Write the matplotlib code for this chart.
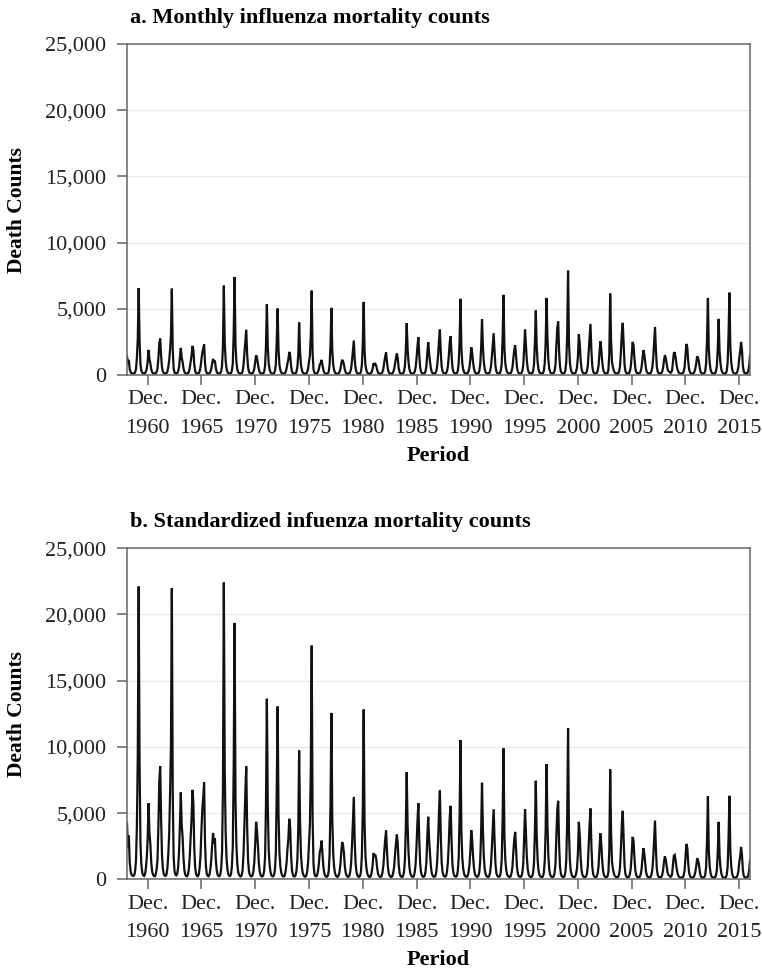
import numpy as np
import matplotlib
matplotlib.use("Agg")
import matplotlib.pyplot as plt
from matplotlib.ticker import FuncFormatter, MultipleLocator

# monthly counts, Jan..Dec, one row per year (1959-2016)
start_year = 1959
raw_counts = [
    1410, 900, 1150, 450, 230, 150, 130, 120, 130, 220, 450, 1300,     # 1959
    2800, 6580, 2600, 800, 330, 180, 140, 130, 150, 260, 500, 1000,    # 1960
    1910, 1200, 900, 450, 230, 150, 130, 120, 140, 250, 500, 1300,     # 1961
    2400, 2760, 1500, 600, 280, 160, 130, 120, 150, 260, 600, 1100,    # 1962
    1900, 3000, 6530, 1900, 500, 200, 140, 130, 150, 280, 600, 1300,   # 1963
    2060, 1300, 1000, 500, 250, 150, 130, 120, 150, 260, 550, 1000,    # 1964
    1500, 2210, 1900, 800, 300, 160, 130, 120, 150, 280, 600, 1200,    # 1965
    1700, 2000, 2340, 900, 320, 160, 130, 120, 150, 250, 500, 900,     # 1966
    1230, 1000, 1100, 550, 260, 150, 130, 120, 150, 280, 700, 2200,    # 1967
    6760, 2500, 1100, 500, 250, 150, 130, 130, 160, 350, 900, 3200,    # 1968
    7410, 2300, 1000, 450, 230, 150, 130, 120, 150, 300, 800, 1700,    # 1969
    2600, 3440, 1600, 600, 260, 150, 130, 120, 140, 250, 500, 1000,    # 1970
    1510, 1300, 900, 450, 230, 140, 120, 120, 140, 260, 700, 2200,     # 1971
    5350, 2200, 900, 450, 230, 140, 120, 120, 150, 300, 800, 2600,     # 1972
    5030, 1900, 800, 400, 210, 140, 120, 120, 140, 260, 500, 900,      # 1973
    1200, 1760, 1500, 700, 280, 150, 120, 120, 140, 260, 600, 1500,    # 1974
    3970, 1800, 800, 400, 200, 140, 120, 110, 130, 240, 500, 1000,     # 1975
    1500, 3000, 6380, 1700, 450, 180, 130, 120, 140, 240, 450, 800,    # 1976
    900, 1160, 800, 400, 200, 130, 110, 110, 130, 260, 800, 2300,      # 1977
    5080, 1800, 800, 380, 200, 130, 110, 110, 130, 230, 450, 850,      # 1978
    1160, 1050, 800, 400, 200, 130, 110, 110, 130, 250, 500, 1100,     # 1979
    1900, 2610, 1200, 500, 230, 130, 110, 110, 130, 260, 800, 2300,    # 1980
    5530, 1800, 750, 380, 200, 130, 110, 110, 130, 250, 500, 905,      # 1981
    800, 850, 700, 400, 200, 130, 110, 110, 130, 250, 500, 1000,       # 1982
    1400, 1710, 1000, 450, 220, 130, 110, 110, 130, 250, 450, 900,     # 1983
    1300, 1630, 1300, 550, 230, 130, 110, 110, 140, 280, 700, 1900,    # 1984
    3920, 2000, 1000, 450, 220, 140, 120, 120, 140, 280, 600, 1300,    # 1985
    2200, 2870, 1500, 600, 260, 150, 120, 120, 150, 300, 700, 1700,    # 1986
    2490, 1600, 1000, 500, 240, 150, 130, 130, 150, 300, 700, 1500,    # 1987
    2600, 3440, 1700, 650, 280, 160, 130, 130, 160, 320, 700, 1500,    # 1988
    2500, 2940, 1600, 600, 270, 160, 130, 130, 160, 330, 900, 2600,    # 1989
    5760, 2000, 900, 450, 230, 150, 130, 130, 150, 300, 600, 1200,     # 1990
    2110, 1700, 1000, 500, 240, 150, 130, 130, 160, 320, 800, 2000,    # 1991
    4220, 2200, 1000, 450, 230, 150, 130, 130, 150, 300, 650, 1400,    # 1992
    2300, 3170, 1800, 700, 280, 160, 130, 130, 160, 350, 900, 2800,    # 1993
    6060, 2000, 900, 450, 230, 150, 130, 130, 150, 300, 600, 1300,     # 1994
    1900, 2260, 1400, 600, 260, 150, 130, 130, 160, 320, 750, 2000,    # 1995
    3440, 2200, 1100, 500, 240, 150, 130, 130, 150, 320, 800, 2400,    # 1996
    4880, 2200, 1000, 450, 230, 150, 130, 130, 160, 330, 900, 2500,    # 1997
    5830, 2800, 1200, 500, 240, 150, 130, 130, 160, 330, 800, 2300,    # 1998
    3600, 4050, 1800, 650, 280, 160, 130, 130, 160, 350, 1000, 3000,   # 1999
    7890, 2500, 1000, 450, 230, 150, 130, 130, 150, 300, 600, 1400,    # 2000
    3090, 2400, 1200, 500, 240, 150, 130, 130, 150, 300, 700, 1800,    # 2001
    3000, 3870, 1900, 700, 280, 160, 130, 130, 160, 320, 700, 1600,    # 2002
    2560, 2000, 1100, 500, 240, 150, 130, 130, 160, 400, 1600, 6160,   # 2003
    2600, 1000, 600, 350, 200, 140, 120, 120, 150, 300, 700, 1800,     # 2004
    3200, 3950, 2300, 800, 300, 160, 130, 130, 150, 300, 650, 1500,    # 2005
    2510, 2300, 1300, 550, 250, 150, 130, 130, 150, 280, 600, 1200,    # 2006
    1890, 1600, 1000, 450, 230, 150, 130, 130, 150, 280, 600, 1300,    # 2007
    2500, 3640, 1900, 650, 270, 150, 130, 130, 150, 270, 550, 1100,    # 2008
    1510, 1300, 900, 450, 300, 250, 180, 200, 350, 1000, 1650, 1730,   # 2009
    1300, 800, 450, 250, 170, 130, 120, 120, 140, 270, 600, 1500,      # 2010
    2360, 2100, 1100, 450, 220, 140, 120, 120, 140, 260, 500, 900,     # 2011
    1430, 1300, 1000, 500, 220, 140, 120, 120, 150, 300, 900, 2700,    # 2012
    5830, 2000, 900, 420, 220, 140, 120, 120, 150, 300, 700, 2000,     # 2013
    4250, 1800, 900, 420, 220, 140, 120, 120, 150, 320, 900, 3000,     # 2014
    6230, 2200, 1000, 450, 220, 140, 120, 120, 150, 300, 600, 1300,    # 2015
    1800, 2510, 1900, 700, 280, 150, 130, 130, 150, 300, 700, 1510,    # 2016
]

std_counts = [
    4220, 2400, 3300, 1300, 600, 350, 280, 250, 300, 600, 1400, 4000,        # 1959
    9400, 22100, 8700, 2700, 1100, 500, 300, 250, 350, 800, 1600, 3000,      # 1960
    5740, 3500, 2700, 1300, 600, 350, 250, 230, 350, 750, 1500, 4000,        # 1961
    7400, 8530, 4600, 1850, 800, 400, 280, 250, 350, 800, 1850, 3400,        # 1962
    6400, 10100, 21960, 6400, 1700, 600, 350, 300, 400, 900, 2000, 4100,     # 1963
    6550, 4100, 3200, 1600, 700, 350, 250, 230, 350, 800, 1750, 3100,        # 1964
    4600, 6750, 5800, 2400, 900, 400, 260, 230, 350, 850, 1800, 3700,        # 1965
    5300, 6200, 7310, 2800, 1000, 400, 260, 230, 350, 780, 1500, 2600,       # 1966
    3500, 2700, 3100, 1550, 700, 350, 250, 230, 350, 800, 2000, 6800,        # 1967
    22400, 8300, 3600, 1600, 750, 380, 260, 250, 380, 1000, 2500, 8500,      # 1968
    19350, 6000, 2600, 1150, 550, 330, 240, 220, 330, 750, 2000, 4300,       # 1969
    6500, 8530, 4000, 1500, 620, 330, 240, 220, 300, 600, 1300, 2700,        # 1970
    4340, 3700, 2600, 1250, 600, 320, 230, 220, 300, 650, 1700, 5600,        # 1971
    13630, 5600, 2300, 1150, 560, 320, 230, 220, 330, 700, 2000, 6700,       # 1972
    13045, 4900, 2050, 1000, 520, 300, 220, 210, 300, 650, 1250, 2300,       # 1973
    3100, 4570, 3900, 1800, 700, 330, 220, 210, 300, 620, 1450, 3700,        # 1974
    9720, 4400, 1950, 950, 480, 290, 210, 200, 280, 600, 1300, 2700,         # 1975
    4100, 8300, 17640, 4700, 1200, 420, 250, 220, 300, 600, 1150, 2050,      # 1976
    2300, 2920, 2000, 1000, 480, 280, 200, 190, 270, 600, 1950, 5700,        # 1977
    12560, 4450, 2000, 930, 470, 280, 200, 190, 270, 540, 1100, 2050,        # 1978
    2820, 2550, 1950, 960, 470, 280, 200, 190, 260, 580, 1200, 2600,         # 1979
    4500, 6220, 2850, 1200, 540, 280, 200, 190, 260, 600, 1850, 5300,        # 1980
    12820, 4200, 1750, 880, 450, 270, 190, 180, 250, 560, 1100, 1980,        # 1981
    1750, 1850, 1550, 870, 430, 260, 190, 180, 240, 530, 1050, 2100,         # 1982
    3000, 3680, 2150, 960, 460, 260, 190, 180, 240, 520, 950, 1900,          # 1983
    2700, 3375, 2700, 1150, 470, 260, 190, 180, 250, 570, 1450, 3900,        # 1984
    8100, 4100, 2050, 920, 450, 270, 200, 190, 250, 560, 1200, 2600,         # 1985
    4400, 5740, 3000, 1200, 520, 280, 200, 190, 260, 580, 1350, 3250,        # 1986
    4720, 3000, 1900, 950, 450, 270, 200, 190, 250, 560, 1330, 2900,         # 1987
    5070, 6700, 3300, 1270, 540, 300, 210, 200, 270, 610, 1350, 2850,        # 1988
    4700, 5546, 3000, 1130, 510, 290, 210, 200, 270, 620, 1650, 4800,        # 1989
    10510, 3650, 1640, 820, 420, 260, 200, 190, 250, 540, 1080, 2150,        # 1990
    3706, 3000, 1760, 880, 420, 260, 200, 190, 260, 560, 1400, 3500,         # 1991
    7286, 3800, 1730, 780, 400, 250, 190, 180, 240, 520, 1120, 2400,         # 1992
    3850, 5294, 3000, 1170, 470, 270, 200, 190, 250, 580, 1500, 4600,        # 1993
    9883, 3260, 1470, 730, 370, 240, 190, 180, 230, 490, 980, 2100,          # 1994
    3000, 3580, 2200, 950, 410, 240, 190, 180, 240, 500, 1180, 3100,         # 1995
    5294, 3400, 1700, 770, 370, 230, 180, 170, 230, 490, 1230, 3650,         # 1996
    7437, 3350, 1520, 680, 350, 230, 180, 170, 230, 500, 1370, 3750,         # 1997
    8697, 4170, 1790, 750, 360, 220, 180, 170, 230, 490, 1190, 3370,         # 1998
    5260, 5924, 2630, 950, 410, 230, 180, 170, 230, 510, 1460, 4350,         # 1999
    11420, 3620, 1450, 650, 330, 210, 170, 160, 210, 430, 850, 1970,         # 2000
    4336, 3360, 1680, 700, 340, 210, 170, 160, 210, 420, 970, 2500,          # 2001
    4140, 5344, 2620, 970, 390, 220, 170, 160, 220, 440, 960, 2200,          # 2002
    3479, 2720, 1500, 680, 330, 200, 170, 160, 220, 540, 2170, 8294,         # 2003
    3480, 1340, 800, 470, 270, 190, 160, 150, 200, 400, 930, 2380,           # 2004
    4190, 5168, 3010, 1050, 390, 210, 170, 160, 200, 390, 850, 1950,         # 2005
    3202, 2940, 1660, 700, 320, 190, 160, 150, 190, 360, 770, 1520,          # 2006
    2345, 1980, 1240, 560, 280, 180, 150, 150, 180, 340, 740, 1600,          # 2007
    3050, 4437, 2320, 790, 330, 180, 150, 150, 180, 330, 670, 1320,          # 2008
    1740, 1500, 1030, 510, 330, 270, 190, 210, 370, 1060, 1780, 1840,        # 2009
    1420, 870, 490, 270, 180, 140, 130, 130, 150, 300, 660, 1680,            # 2010
    2672, 2370, 1240, 510, 250, 160, 130, 130, 160, 290, 560, 1000,          # 2011
    1588, 1440, 1110, 550, 240, 150, 130, 130, 160, 320, 960, 2880,          # 2012
    6252, 2140, 960, 450, 230, 150, 130, 130, 160, 310, 720, 2050,           # 2013
    4336, 1840, 920, 430, 220, 140, 120, 120, 150, 330, 910, 3030,           # 2014
    6302, 2220, 1010, 450, 220, 140, 120, 120, 150, 300, 600, 1290,          # 2015
    1750, 2445, 1850, 680, 270, 150, 130, 130, 150, 290, 680, 1462,          # 2016
]

tick_years = [1960, 1965, 1970, 1975, 1980, 1985, 1990, 1995, 2000, 2005, 2010, 2015]
titles = ["a. Monthly influenza mortality counts",
          "b. Standardized infuenza mortality counts"]

plt.rcParams["font.family"] = ["Liberation Serif", "DejaVu Serif"]

t = start_year + np.arange(len(raw_counts)) / 12.0
SPINE = "#666666"

fig = plt.figure(figsize=(7.62, 9.77), dpi=100)
ax_a = fig.add_axes([0.1667, 0.616, 0.8176, 0.339])
ax_b = fig.add_axes([0.1667, 0.100, 0.8176, 0.339])

for ax, series, title in [(ax_a, raw_counts, titles[0]), (ax_b, std_counts, titles[1])]:
    ax.plot(t, series, color="#111111", lw=1.6, solid_joinstyle="miter")
    ax.set_xlim(t[0], t[-1])
    ax.set_ylim(0, 25000)
    ax.yaxis.set_major_locator(MultipleLocator(5000))
    ax.yaxis.set_major_formatter(FuncFormatter(lambda v, p: f"{int(v):,}"))
    ax.set_xticks([y + 11 / 12 for y in tick_years])
    ax.set_xticklabels([f"Dec.\n{y}" for y in tick_years], linespacing=1.65)
    ax.grid(axis="y", color="#ebebeb", lw=1)
    ax.set_axisbelow(True)
    for s in ax.spines.values():
        s.set_color(SPINE); s.set_linewidth(1.1)
    ax.tick_params(colors=SPINE, labelcolor="#222222", labelsize=16, length=7, width=1.1)
    ax.tick_params(axis="y", pad=8)
    ax.tick_params(axis="x", pad=4)
    ax.set_ylabel("Death Counts", fontsize=15.5, fontweight="bold", labelpad=13)
    ax.set_xlabel("Period", fontsize=16, fontweight="bold", labelpad=6)
    ax.set_title(title, loc="left", fontsize=16, fontweight="bold", pad=15, x=0.005)

fig.savefig("out.png", dpi=100)
